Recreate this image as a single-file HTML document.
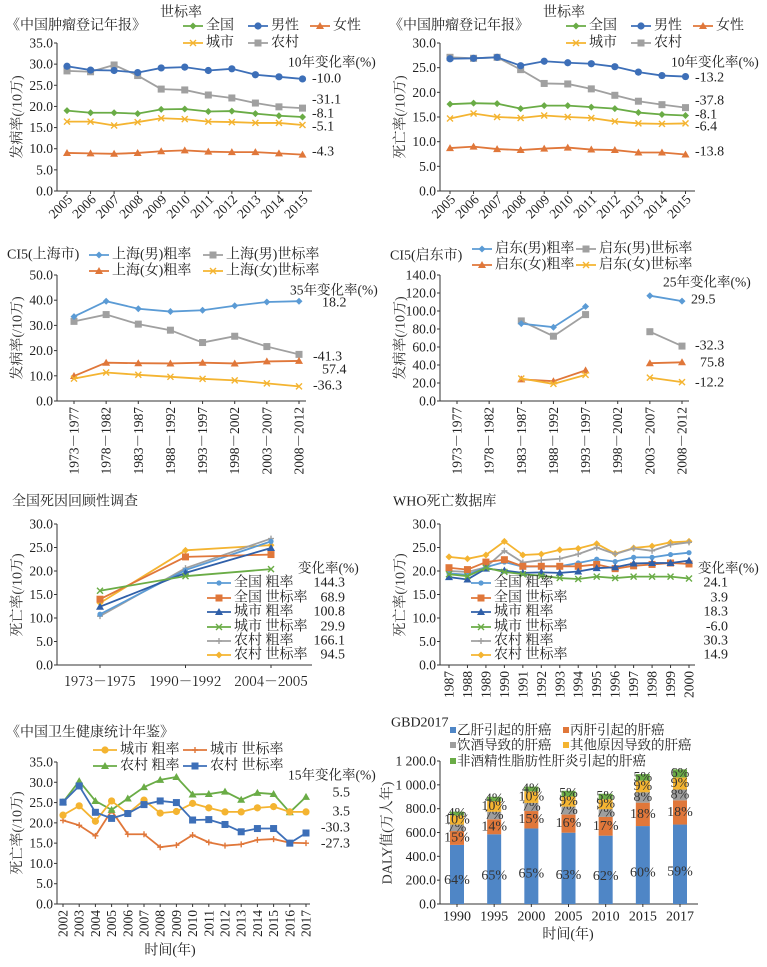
<!DOCTYPE html>
<html><head><meta charset="utf-8">
<style>
html,body{margin:0;padding:0;background:#fff;}
svg{display:block;font-family:"Liberation Serif","Noto Serif CJK SC",serif;}
</style></head>
<body>
<svg id="c" width="767" height="967" viewBox="0 0 767 967"></svg>
<script>
// ---------- data ----------
const yrs05 = ["2005","2006","2007","2008","2009","2010","2011","2012","2013","2014","2015"];
const p1Nat = [19.0,18.5,18.5,18.3,19.3,19.4,18.8,18.9,18.3,17.8,17.5];
const p1Male = [29.5,28.6,28.5,28.0,29.1,29.3,28.5,28.9,27.5,27.0,26.5];
const p1Female = [9.0,8.9,8.8,9.0,9.4,9.6,9.3,9.2,9.2,8.9,8.6];
const p1Urban = [16.4,16.4,15.5,16.3,17.2,17.0,16.4,16.3,16.1,16.1,15.6];
const p1Rural = [28.4,28.2,29.8,27.3,24.1,23.9,22.7,22.0,20.8,19.9,19.6];
const p1Ticks = [0,5,10,15,20,25,30,35];
const p1Change = ["-10.0","-31.1","-8.1","-5.1","-4.3"];

const p2Nat = [17.6,17.8,17.7,16.7,17.3,17.3,17.0,16.7,15.9,15.5,15.3];
const p2Male = [26.8,26.9,27.1,25.4,26.3,26.0,25.8,25.2,24.1,23.4,23.2];
const p2Female = [8.7,9.0,8.5,8.3,8.6,8.8,8.4,8.3,7.8,7.8,7.4];
const p2Urban = [14.7,15.7,15.0,14.8,15.3,15.0,14.8,14.1,13.7,13.6,13.7];
const p2Rural = [27.1,26.9,27.1,24.6,21.8,21.7,20.7,19.4,18.2,17.5,16.9];
const p2Ticks = [0,5,10,15,20,25,30];
const p2Change = ["-13.2","-37.8","-8.1","-6.4","-13.8"];

const periods = ["1973－1977","1978－1982","1983－1987","1988－1992","1993－1997","1998－2002","2003－2007","2008－2012"];
const shMaleCrude = [33.5,39.6,36.6,35.5,36.0,37.8,39.3,39.6];
const shMaleStd = [31.6,34.3,30.5,28.1,23.2,25.7,21.6,18.5];
const shFemaleCrude = [9.9,15.2,15.0,14.9,15.2,14.9,15.7,15.9];
const shFemaleStd = [8.9,11.3,10.4,9.6,8.8,8.2,7.0,5.8];
const p3Ticks = [0,10,20,30,40,50];
const p3Change = ["18.2","-41.3","57.4","-36.3"];

const qdMaleCrude = [null,null,86,82,105,null,117,111];
const qdMaleStd = [null,null,89,72,96,null,77,61];
const qdFemaleCrude = [null,null,24,22,34,null,42,43];
const qdFemaleStd = [null,null,25,19,29,null,26,21];
const p4Ticks = [0,20,40,60,80,100,120,140];
const p4Change = ["29.5","-32.3","75.8","-12.2"];

const p5Cats = ["1973－1975","1990－1992","2004－2005"];
const p5NatCrude = [10.8,20.2,26.3];
const p5NatStd = [14.0,23.0,23.5];
const p5UrbCrude = [12.4,19.6,24.9];
const p5UrbStd = [15.8,18.9,20.4];
const p5RurCrude = [10.4,20.6,26.9];
const p5RurStd = [13.2,24.4,25.5];
const p5Ticks = [0,5,10,15,20,25,30];
const p5Change = ["144.3","68.9","100.8","29.9","166.1","94.5"];

const whoYears = ["1987","1988","1989","1990","1991","1992","1993","1994","1995","1996","1997","1998","1999","2000"];
const whoNatCrude = [19.5,19.2,20.8,21.9,20.9,21.0,21.0,21.7,22.5,22.0,22.9,22.9,23.5,23.9];
const whoNatStd = [20.7,20.3,21.9,22.4,21.0,21.0,21.0,21.0,21.4,20.5,21.1,21.4,21.7,21.5];
const whoUrbCrude = [18.7,18.2,20.5,20.1,19.6,19.7,19.6,19.9,20.6,20.8,21.6,21.7,21.7,22.2];
const whoUrbStd = [19.3,18.9,20.7,19.8,19.3,19.0,18.5,18.3,18.8,18.5,18.8,18.8,18.8,18.4];
const whoRurCrude = [20.0,19.8,20.8,24.3,21.8,22.3,22.6,23.6,25.0,23.6,24.8,24.3,25.6,26.1];
const whoRurStd = [23.0,22.6,23.4,26.3,23.4,23.6,24.5,24.8,25.8,23.7,24.9,25.3,26.1,26.3];
const p6Ticks = [0,5,10,15,20,25,30];
const p6Change = ["24.1","3.9","18.3","-6.0","30.3","14.9"];

const ybYears = ["2002","2003","2004","2005","2006","2007","2008","2009","2010","2011","2012","2013","2014","2015","2016","2017"];
const ybUrbCrude = [21.9,24.2,20.4,25.4,22.3,25.6,22.4,22.8,24.8,23.7,22.7,22.7,23.7,24.0,22.7,22.7];
const ybUrbStd = [20.6,19.4,16.8,23.0,17.2,17.2,14.0,14.5,17.0,15.2,14.4,14.7,15.8,16.0,15.1,15.0];
const ybRurCrude = [25.1,30.3,25.4,23.2,26.0,28.8,30.6,31.3,27.0,27.1,27.7,25.7,27.4,27.1,22.6,26.4];
const ybRurStd = [25.1,29.1,22.6,21.1,22.3,24.5,25.4,25.0,20.7,20.8,19.6,17.8,18.6,18.6,15.0,17.5];
const p7Ticks = [0,5,10,15,20,25,30,35];
const p7Change = ["5.5","3.5","-30.3","-27.3"];

const gbdYears = ["1990","1995","2000","2005","2010","2015","2017"];
const gbdTotals = [775,900,985,950,925,1090,1130];
const gbdHBV = [64,65,65,63,62,60,59];
const gbdHCV = [15,14,15,16,17,18,18];
const gbdAlcohol = [7,7,7,7,7,8,8];
const gbdOther = [10,10,10,9,9,9,9];
const gbdNash = [4,4,4,5,5,5,6];
const p8Ticks = [0,200,400,600,800,1000,1200];

// ---------- helpers ----------
const NS="http://www.w3.org/2000/svg";
const svg=document.getElementById('c');
function el(tag,attrs,parent){const e=document.createElementNS(NS,tag);for(const k in attrs)e.setAttribute(k,attrs[k]);(parent||svg).appendChild(e);return e;}
function txt(x,y,s,opt,parent){opt=opt||{};const t=el('text',{x:x,y:y,'font-size':opt.size||13,fill:opt.fill||'#222','text-anchor':opt.anchor||'start','dominant-baseline':'central'},parent);if(opt.rot!==undefined)t.setAttribute('transform','rotate('+opt.rot+' '+x+' '+y+')');if(opt.font)t.setAttribute('font-family',opt.font);t.textContent=s;return t;}
const C={green:'#6aac46',blue:'#3d6fb8',orange:'#e0773a',yellow:'#f4b431',gray:'#a0a0a0',lblue:'#5b9bd5',dblue:'#2f5fa8'};
function marker(g,type,x,y,color){
  if(type==='circle')return el('circle',{cx:x,cy:y,r:3.6,fill:color},g);
  if(type==='dot')return el('circle',{cx:x,cy:y,r:2.6,fill:color},g);
  if(type==='diamond')return el('path',{d:`M${x} ${y-3.5}L${x+3.5} ${y}L${x} ${y+3.5}L${x-3.5} ${y}Z`,fill:color},g);
  if(type==='square')return el('rect',{x:x-3.5,y:y-3.5,width:7,height:7,fill:color},g);
  if(type==='tri')return el('path',{d:`M${x} ${y-4}L${x+4} ${y+3}L${x-4} ${y+3}Z`,fill:color},g);
  if(type==='x')return el('path',{d:`M${x-3} ${y-3}L${x+3} ${y+3}M${x+3} ${y-3}L${x-3} ${y+3}`,stroke:color,'stroke-width':1.4},g);
  if(type==='plus')return el('path',{d:`M${x-3} ${y}L${x+3} ${y}M${x} ${y-3}L${x} ${y+3}`,stroke:color,'stroke-width':1.4},g);
}
function axes(g,cfg){
  const {ax,top,bot,xEnd,yMax,ticks,fmt}=cfg;
  const sy=v=>bot-(v/yMax)*(bot-top);
  el('line',{x1:ax,y1:top,x2:ax,y2:bot,stroke:'#333','stroke-width':1},g);
  el('line',{x1:ax,y1:bot,x2:xEnd,y2:bot,stroke:'#333','stroke-width':1},g);
  ticks.forEach(v=>{const y=sy(v);el('line',{x1:ax-3,y1:y,x2:ax,y2:y,stroke:'#333'},g);
    const t=txt(ax-4,y,fmt?fmt(v):v.toFixed(1),{anchor:'end',size:13.5},g);
    });
  return sy;
}
function series(g,vals,sx,sy,color,mk,name){
  const s=el('g',{},g);
  
  
  let d='',pen=false;
  vals.forEach((v,i)=>{if(v===null){pen=false;return;}d+=(pen?'L':'M')+sx(i)+' '+sy(v);pen=true;});
  el('path',{d:d,fill:'none',stroke:color,'stroke-width':1.8},s);
  vals.forEach((v,i)=>{if(v!==null)marker(s,mk,sx(i),sy(v),color);});
}
function legendItem(g,x,y,color,mk,label,len){
  len=len||20;
  const li=el('g',{},g);
  
  
  el('line',{x1:x,y1:y,x2:x+len,y2:y,stroke:color,'stroke-width':1.8},li);
  marker(li,mk,x+len/2,y,color);
  txt(x+len+3,y,label,{size:14},li);
}
function panel(name){const g=el('g',{});return g;}
function xLabels(g,cats,sx,y,rot,anchor,font,tickY){cats.forEach((c,i)=>{
  const ty=tickY!==undefined?tickY:y-4;
  el('line',{x1:sx(i),y1:ty,x2:sx(i),y2:ty+3,stroke:'#333'},g);
  const t=txt(sx(i)+(rot===-45?3:0),y+2,c,{anchor:anchor||'end',rot:rot,size:13.5,font:font},g);
  });}
function yTitle(g,x,y,s){const t=txt(x,y,s,{anchor:'middle',rot:-90,size:14,fill:'#333'},g);}

// ---------- panel 1 & 2 ----------
function p12(ox,yMax,ticks,nat,male,female,urban,rural,change,ytitle,changeY){
  const g=panel(ox?'mortality-registry-chart':'incidence-registry-chart');
  const sy=axes(g,{ax:ox+57,top:43,bot:191,xEnd:ox+312,yMax:yMax,ticks:ticks});
  const sx=i=>ox+67+i*(235.5/10);
  xLabels(g,yrs05,sx,195,-45);
  series(g,rural,sx,sy,C.gray,'square','series-rural');
  series(g,male,sx,sy,C.blue,'circle','series-male');
  series(g,nat,sx,sy,C.green,'diamond','series-national');
  series(g,urban,sx,sy,C.yellow,'x','series-urban');
  series(g,female,sx,sy,C.orange,'tri','series-female');
  txt(ox+6,26,'《中国肿瘤登记年报》',{size:14});
  txt(ox+160,13,'世标率',{size:14});
  legendItem(g,ox+183,26,C.green,'diamond','全国');
  legendItem(g,ox+248,26,C.blue,'circle','男性');
  legendItem(g,ox+310,26,C.orange,'tri','女性');
  legendItem(g,ox+183,43,C.yellow,'x','城市');
  legendItem(g,ox+248,43,C.gray,'square','农村');
  txt(ox+288,62,'10年变化率(%)',{size:13.5});
  change.forEach((c,i)=>txt(ox+312,changeY[i],c,{size:14}));
  yTitle(g,ox+18,117,ytitle);
}
p12(0,35,p1Ticks,p1Nat,p1Male,p1Female,p1Urban,p1Rural,p1Change,'发病率(/10万)',[79,100,114,127,152]);
p12(383,30,p2Ticks,p2Nat,p2Male,p2Female,p2Urban,p2Rural,p2Change,'死亡率(/10万)',[78,101,115,127,152]);

// ---------- panel 3 & 4 ----------
function p34(ox,yMax,ticks,mc,ms,fc,fs,change,city,head,changePos,legY){
  const g=panel(ox?'qidong-ci5-chart':'shanghai-ci5-chart');
  const sy=axes(g,{ax:ox+57,top:275,bot:401,xEnd:ox+306,yMax:yMax,ticks:ticks});
  const sx=i=>ox+74+i*(225/7);
  xLabels(g,periods,sx,405,-90);
  series(g,ms,sx,sy,C.gray,'square','series-male-std');
  series(g,mc,sx,sy,C.lblue,'diamond','series-male-crude');
  series(g,fc,sx,sy,C.orange,'tri','series-female-crude');
  series(g,fs,sx,sy,C.yellow,'x','series-female-std');
  txt(ox+7,ox?256:255,'CI5('+city+'市)',{size:14});
  legendItem(g,ox+89,legY,C.lblue,'diamond',city+'(男)粗率');
  legendItem(g,ox+(ox?193:203),legY,C.gray,'square',city+'(男)世标率');
  legendItem(g,ox+89,legY+16,C.orange,'tri',city+'(女)粗率');
  legendItem(g,ox+(ox?193:203),legY+16,C.yellow,'x',city+'(女)世标率');
  txt(ox+(ox?280:290),ox?282:290,head,{size:13.5});
  change.forEach((c,i)=>txt(changePos[i][0],changePos[i][1],c,{size:14}));
  yTitle(g,ox+18,338,'发病率(/10万)');
}
p34(0,50,p3Ticks,shMaleCrude,shMaleStd,shFemaleCrude,shFemaleStd,p3Change,'上海','35年变化率(%)',[[322,303],[313,357],[322,370],[313,386]],255);
p34(383,140,p4Ticks,qdMaleCrude,qdMaleStd,qdFemaleCrude,qdFemaleStd,p4Change,'启东','25年变化率(%)',[[691,300],[695,346],[700,363],[695,383]],249);

// ---------- panel 5 & 6 ----------
const leg6=[['全国 粗率',C.lblue,'dot'],['全国 世标率',C.orange,'square'],['城市 粗率',C.dblue,'tri'],['城市 世标率',C.green,'x'],['农村 粗率',C.gray,'plus'],['农村 世标率',C.yellow,'diamond']];
function p56(ox,cats,sets,change,title,firstX,span,rot){
  const g=panel(ox?'who-mortality-chart':'retrospective-survey-chart');
  const sy=axes(g,{ax:ox+57,top:524,bot:665,xEnd:ox+312,yMax:30,ticks:p5Ticks});
  const n=cats.length;
  const sx=i=>ox+firstX+i*(span/(n-1));
  if(rot) xLabels(g,cats,sx,669,-90); else xLabels(g,cats,sx,678,undefined,'middle','"Noto Serif CJK SC", serif',665);
  const names=['series-national-crude','series-national-std','series-urban-crude','series-urban-std','series-rural-crude','series-rural-std'];
  [5,4,0,1,2,3].forEach(k=>series(g,sets[k],sx,sy,leg6[k][1],leg6[k][2],names[k]));
  txt(ox+(ox?10:12),502,title,{size:14});
  txt(ox+(ox?315:298),568,'变化率(%)',{size:13.5});
  const ys=[583,598,612,627,641,655];
  leg6.forEach((l,i)=>{legendItem(g,ox+(ox?88:207),ys[i],l[1],l[2],l[0],ox?20:24);
    txt(ox+345,ys[i],change[i],{size:14,anchor:'end'});});
  yTitle(g,ox+18,595,'死亡率(/10万)');
}
p56(0,p5Cats,[p5NatCrude,p5NatStd,p5UrbCrude,p5UrbStd,p5RurCrude,p5RurStd],p5Change,'全国死因回顾性调查',100,171,false);
p56(383,whoYears,[whoNatCrude,whoNatStd,whoUrbCrude,whoUrbStd,whoRurCrude,whoRurStd],p6Change,'WHO死亡数据库',66,240,true);

// ---------- panel 7 ----------
(function(){
  const g=panel('health-yearbook-chart');
  const sy=axes(g,{ax:57,top:762,bot:904,xEnd:310,yMax:35,ticks:p7Ticks});
  const sx=i=>63+i*(243/15);
  xLabels(g,ybYears,sx,908,-90);
  series(g,ybUrbStd,sx,sy,C.orange,'plus','series-urban-std');
  series(g,ybRurCrude,sx,sy,C.green,'tri','series-rural-crude');
  series(g,ybUrbCrude,sx,sy,C.yellow,'circle','series-urban-crude');
  series(g,ybRurStd,sx,sy,C.blue,'square','series-rural-std');
  txt(6,733,'《中国卫生健康统计年鉴》',{size:14});
  legendItem(g,93,750,C.yellow,'circle','城市 粗率',24);
  legendItem(g,183,750,C.orange,'plus','城市 世标率',24);
  legendItem(g,93,766,C.green,'tri','农村 粗率',24);
  legendItem(g,183,766,C.blue,'square','农村 世标率',24);
  txt(288,775,'15年变化率(%)',{size:13.5});
  [793,812,828,844].forEach((y,i)=>txt(350,y,p7Change[i],{size:14,anchor:'end'}));
  yTitle(g,18,833,'死亡率(/10万)');
  const t=txt(170,951,'时间(年)',{size:14,anchor:'middle'});
  
})();

// ---------- panel 8 ----------
(function(){
  const ox=383;
  const g=panel('gbd-daly-stacked-bar-chart');
  const sy=axes(g,{ax:ox+57,top:761,bot:904,xEnd:ox+315,yMax:1200,ticks:p8Ticks,fmt:v=>v>=1000?'1 '+String(v-1000).padStart(3,'0')+'.0':v.toFixed(1)});
  const sx=i=>ox+74+i*(223/6);
  const segs=[[gbdHBV,'#4f86c6'],[gbdHCV,'#e0773a'],[gbdAlcohol,'#9e9e9e'],[gbdOther,'#f4b431'],[gbdNash,'#6aac46']];
  const segNames=['bar-hbv','bar-hcv','bar-alcohol','bar-other','bar-nash'];
  gbdYears.forEach((yr,i)=>{
    let acc=0;
    const sum=segs.reduce((a,s)=>a+s[0][i],0);
    segs.forEach((s,k)=>{
      const v=gbdTotals[i]*s[0][i]/sum;
      const y1=sy(acc+v),y0=sy(acc);
      const r=el('rect',{x:sx(i)-7,y:y1,width:14,height:y0-y1,fill:s[1]},g);
      
      
      const ly=k===0?sy(acc+v*0.4):(y0+y1)/2;
      txt(sx(i),ly,s[0][i]+'%',{size:14,anchor:'middle',fill:'#333'},g);
      acc+=v;
    });
    el('line',{x1:sx(i),y1:904,x2:sx(i),y2:907,stroke:'#333'},g);
    txt(sx(i),917,yr,{size:14,anchor:'middle'},g);
  });
  txt(ox+8,723,'GBD2017',{size:14});
  const lg=[[453,730,'#4f86c6','乙肝引起的肝癌'],[566,730,'#e0773a','丙肝引起的肝癌'],[453,745,'#9e9e9e','饮酒导致的肝癌'],[566,745,'#f4b431','其他原因导致的肝癌'],[453,761,'#6aac46','非酒精性脂肪性肝炎引起的肝癌']];
  lg.forEach(l=>{const li=el('g',{},g);
    
    
    el('rect',{x:l[0]-3,y:l[1]-3,width:6,height:6,fill:l[2]},li);txt(l[0]+4,l[1],l[3],{size:13.5},li);});
  yTitle(g,ox+5,833,'DALY值(万人年)');
  const t=txt(ox+185,935,'时间(年)',{size:14,anchor:'middle'});
  
})();
</script>
</body></html>
